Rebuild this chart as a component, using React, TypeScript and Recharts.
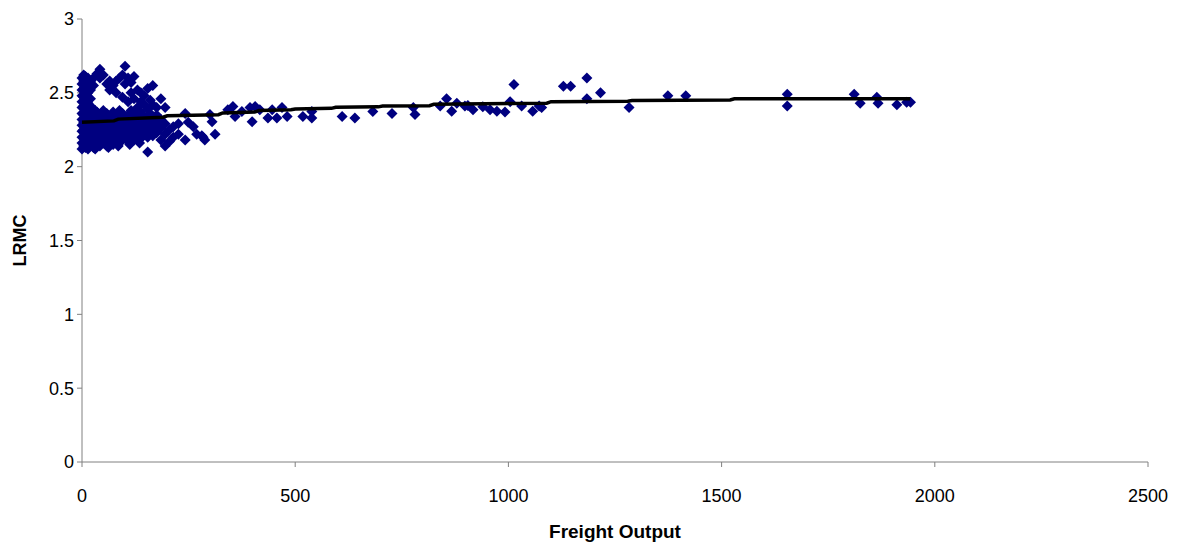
import { ScatterChart, Scatter, XAxis, YAxis, Label } from "recharts";

// dense group near the origin: [freight output, LRMC values at that output]
const clusterColumns: [number, number[]][] = [
  [0, [2.12, 2.16, 2.2, 2.24, 2.28, 2.32, 2.36, 2.4, 2.44, 2.48, 2.52, 2.56, 2.6]],
  [4, [2.14, 2.19, 2.25, 2.3, 2.35, 2.41, 2.47, 2.53, 2.58, 2.62]],
  [8, [2.13, 2.18, 2.23, 2.29, 2.34, 2.38, 2.45, 2.5, 2.55, 2.61]],
  [14, [2.12, 2.17, 2.22, 2.27, 2.33, 2.37, 2.43, 2.5, 2.56, 2.6]],
  [20, [2.15, 2.2, 2.26, 2.31, 2.36, 2.41, 2.46, 2.52, 2.58]],
  [27, [2.13, 2.18, 2.24, 2.29, 2.34, 2.55, 2.6]],
  [31, [2.12, 2.38]],
  [35, [2.15, 2.21, 2.27, 2.32, 2.37, 2.63]],
  [42, [2.14, 2.2, 2.25, 2.3, 2.35, 2.66, 2.6]],
  [50, [2.16, 2.22, 2.28, 2.33, 2.38, 2.62]],
  [58, [2.14, 2.19, 2.25, 2.31, 2.36, 2.56]],
  [62, [2.13]],
  [65, [2.17, 2.23, 2.29, 2.34, 2.58, 2.52]],
  [73, [2.15, 2.2, 2.26, 2.32, 2.37, 2.55]],
  [80, [2.18, 2.24, 2.3, 2.35, 2.58, 2.5]],
  [85, [2.14]],
  [88, [2.16, 2.21, 2.27, 2.33, 2.38, 2.6]],
  [95, [2.19, 2.25, 2.3, 2.36, 2.47, 2.62]],
  [101, [2.68, 2.56, 2.2, 2.28, 2.34]],
  [108, [2.17, 2.23, 2.29, 2.35, 2.44, 2.6]],
  [112, [2.15]],
  [115, [2.2, 2.26, 2.32, 2.38, 2.5, 2.57]],
  [122, [2.18, 2.24, 2.3, 2.36, 2.46, 2.61]],
  [130, [2.21, 2.27, 2.33, 2.4, 2.52]],
  [135, [2.16]],
  [138, [2.19, 2.25, 2.31, 2.37, 2.44, 2.5]],
  [146, [2.22, 2.28, 2.34, 2.42, 2.48]],
  [154, [2.1, 2.2, 2.26, 2.32, 2.39, 2.53]],
  [160, [2.24, 2.3, 2.36, 2.45]],
  [166, [2.21, 2.27, 2.33, 2.55, 2.42]],
  [175, [2.23, 2.29, 2.35, 2.4]],
  [185, [2.18, 2.26, 2.32, 2.46]],
  [195, [2.14, 2.22, 2.29, 2.4]],
  [205, [2.17, 2.25]],
  [214, [2.2, 2.27]],
  [226, [2.22, 2.29]],
  [242, [2.18, 2.36]],
  [249, [2.3]],
  [261, [2.27]],
  [269, [2.22]],
  [281, [2.21]],
];

const outlyingPoints: [number, number][] = [
  [284, 2.2], [288, 2.18], [300, 2.353], [305, 2.305], [312, 2.22],
  [342, 2.386], [354, 2.407], [359, 2.34], [375, 2.373], [394, 2.4],
  [399, 2.305], [406, 2.407], [417, 2.386], [436, 2.33], [446, 2.386],
  [457, 2.33], [469, 2.4], [481, 2.34], [518, 2.34], [539, 2.373],
  [539, 2.33], [610, 2.34], [640, 2.33], [682, 2.373], [727, 2.36],
  [777, 2.4], [781, 2.353], [840, 2.41], [855, 2.46], [867, 2.375],
  [879, 2.43], [898, 2.41], [905, 2.414], [917, 2.386], [940, 2.405],
  [957, 2.386], [973, 2.375], [992, 2.37], [1004, 2.44], [1013, 2.556],
  [1031, 2.41], [1057, 2.375], [1072, 2.41], [1078, 2.4], [1129, 2.545],
  [1146, 2.545], [1184, 2.6], [1184, 2.46], [1216, 2.5], [1283, 2.4],
  [1374, 2.48], [1416, 2.48], [1654, 2.49], [1654, 2.41], [1811, 2.49],
  [1825, 2.43], [1864, 2.47], [1867, 2.43], [1911, 2.42], [1934, 2.436],
  [1943, 2.436],
];

// fitted LRMC curve
const trendPoints: [number, number][] = [
  [0, 2.3], [75, 2.31], [85, 2.322], [190, 2.335], [200, 2.345],
  [320, 2.352], [330, 2.364], [405, 2.37], [415, 2.38], [490, 2.385],
  [500, 2.39], [585, 2.395], [595, 2.402], [695, 2.405], [705, 2.41],
  [815, 2.413], [825, 2.422], [1090, 2.43], [1100, 2.44], [1280, 2.443],
  [1290, 2.448], [1520, 2.452], [1530, 2.46], [1942, 2.46],
];

const xTicks = [0, 500, 1000, 1500, 2000, 2500];
const yTicks = [0, 0.5, 1, 1.5, 2, 2.5, 3];

const observed = [
  ...clusterColumns.flatMap(([x, ys]) => ys.map((y) => ({ x, y }))),
  ...outlyingPoints.map(([x, y]) => ({ x, y })),
];
const trend = trendPoints.map(([x, y]) => ({ x, y }));

const FONT = "'Liberation Sans', Arial, sans-serif";
const AXIS = "#808080";

function Diamond(props: any) {
  const { cx, cy } = props;
  if (cx == null || cy == null) return <g />;
  const r = 5.5;
  return (
    <polygon
      points={`${cx},${cy - r} ${cx + r},${cy} ${cx},${cy + r} ${cx - r},${cy}`}
      fill="#000080"
    />
  );
}

export default function App() {
  return (
    <div style={{ fontFamily: FONT }}>
      <ScatterChart
        width={1167}
        height={536}
        margin={{ top: 11, right: 27, bottom: 8, left: 0 }}
      >
        <XAxis
          type="number"
          dataKey="x"
          domain={[0, 2500]}
          ticks={xTicks}
          height={74}
          stroke={AXIS}
          tickSize={5}
          tickMargin={22}
          tick={{ fill: "#000", fontSize: 18, fontFamily: FONT }}
        >
          <Label
            value="Freight Output"
            position="insideBottom"
            offset={-2}
            style={{ fontWeight: "bold", fontSize: 19, fill: "#000", fontFamily: FONT }}
          />
        </XAxis>
        <YAxis
          type="number"
          dataKey="y"
          domain={[0, 3]}
          ticks={yTicks}
          width={74}
          stroke={AXIS}
          tickSize={5}
          tickMargin={3}
          tick={{ fill: "#000", fontSize: 18, fontFamily: FONT }}
        >
          <Label
            value="LRMC"
            angle={-90}
            position="insideLeft"
            offset={12}
            style={{
              fontWeight: "bold",
              fontSize: 18,
              fill: "#000",
              fontFamily: FONT,
              textAnchor: "middle",
            }}
          />
        </YAxis>
        <Scatter
          data={observed}
          shape={<Diamond />}
          isAnimationActive={false}
        />
        <Scatter
          data={trend}
          line={{ stroke: "#000", strokeWidth: 3.5 }}
          lineType="joint"
          shape={() => <g />}
          isAnimationActive={false}
        />
      </ScatterChart>
    </div>
  );
}
